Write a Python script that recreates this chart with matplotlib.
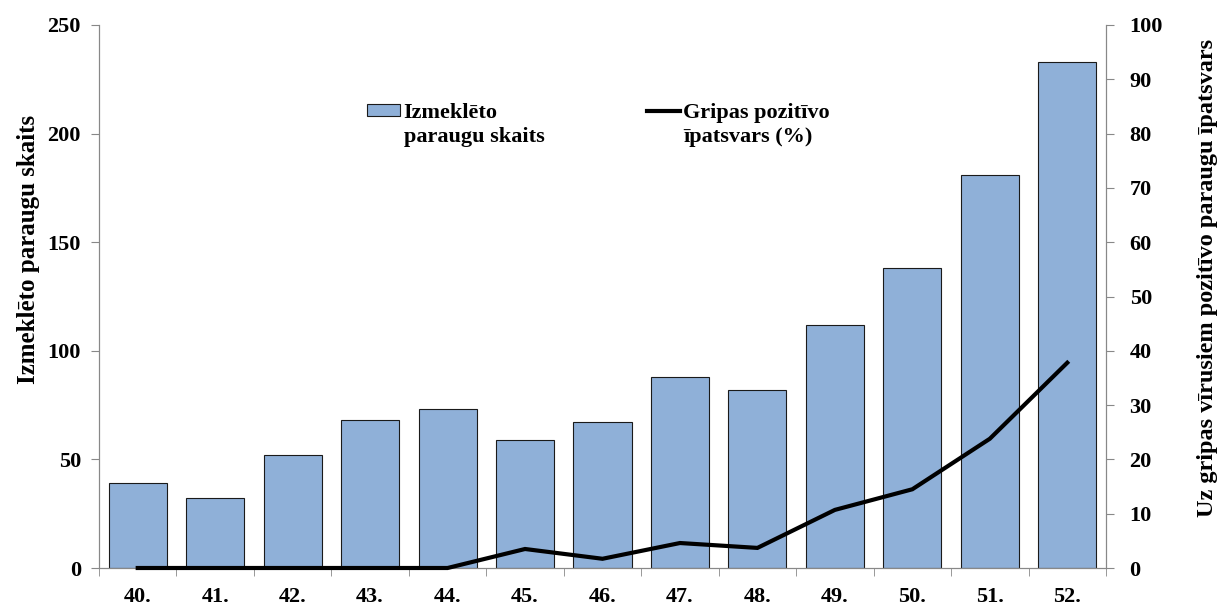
import matplotlib.pyplot as plt
import numpy as np

# weekly data
weeks = ["40.", "41.", "42.", "43.", "44.", "45.", "46.", "47.", "48.", "49.", "50.", "51.", "52."]
samples = [39, 32, 52, 68, 73, 59, 67, 88, 82, 112, 138, 181, 233]
positive_pct = [0, 0, 0, 0, 0, 3.5, 1.7, 4.6, 3.7, 10.7, 14.5, 23.8, 37.8]

plt.rcParams['font.family'] = ['Liberation Serif', 'DejaVu Serif']
plt.rcParams['font.weight'] = 'bold'

fig = plt.figure(figsize=(12.23, 6.06), dpi=100)
ax = fig.add_axes([99 / 1223, 1 - 568 / 606, 1007 / 1223, 543 / 606])
ax2 = ax.twinx()

x = np.arange(len(weeks))
bars = ax.bar(x, samples, width=0.75, color='#8fb0d8', edgecolor='#1a1a1a', linewidth=0.8, zorder=2)
line, = ax2.plot(x, positive_pct, color='black', lw=3, solid_joinstyle='miter', clip_on=False, zorder=4)

ax.set_xlim(-0.5, len(weeks) - 0.5)
ax.set_ylim(0, 250)
ax2.set_ylim(0, 100)
ax.set_yticks(range(0, 251, 50))
ax2.set_yticks(range(0, 101, 10))
ax.set_xticks(x)
ax.set_xticklabels(weeks)
ax.set_xticks(np.arange(-0.5, len(weeks), 1), minor=True)
ax.tick_params(axis='x', which='major', length=0, pad=14, labelsize=16)
ax.tick_params(axis='x', which='minor', length=6, direction='out', color='#888888')
ax.tick_params(axis='y', length=6, color='#888888', labelsize=16, pad=7)
ax2.tick_params(axis='y', length=6, color='#888888', labelsize=16, pad=11)

for a in (ax, ax2):
    a.spines['top'].set_visible(False)
    for s in ('left', 'right', 'bottom'):
        a.spines[s].set_color('#888888')

ax.set_ylabel('Izmeklēto paraugu skaits', fontsize=18, fontweight='bold')
ax2.set_ylabel('Uz gripas vīrusiem pozitīvo paraugu īpatsvars', fontsize=17.5, fontweight='bold')
ax.yaxis.set_label_coords(-0.0586, 0.587)
ax2.yaxis.set_label_coords(1.0904, 0.534)

ax.set_zorder(ax2.get_zorder() - 1)
ax2.patch.set_visible(False)

leg = fig.legend([bars, line], ['Izmeklēto', 'Gripas pozitīvo'], ncol=2, frameon=False,
                 loc='upper left', bbox_to_anchor=(367 / 1223, 1 - 103 / 606), fontsize=16,
                 columnspacing=6.7, handlelength=1.5, handleheight=0.4, handletextpad=0.15,
                 borderpad=0, borderaxespad=0)

# second lines of the legend labels, placed under the first lines
fig.canvas.draw()
for t, second in zip(leg.get_texts(), ['paraugu skaits', 'īpatsvars (%)']):
    bb = t.get_window_extent()
    fig.text(bb.x0 / fig.bbox.width, (bb.y0 - 4) / fig.bbox.height, second,
             ha='left', va='top', fontsize=16, fontweight='bold')

plt.savefig('out.png', dpi=100)
